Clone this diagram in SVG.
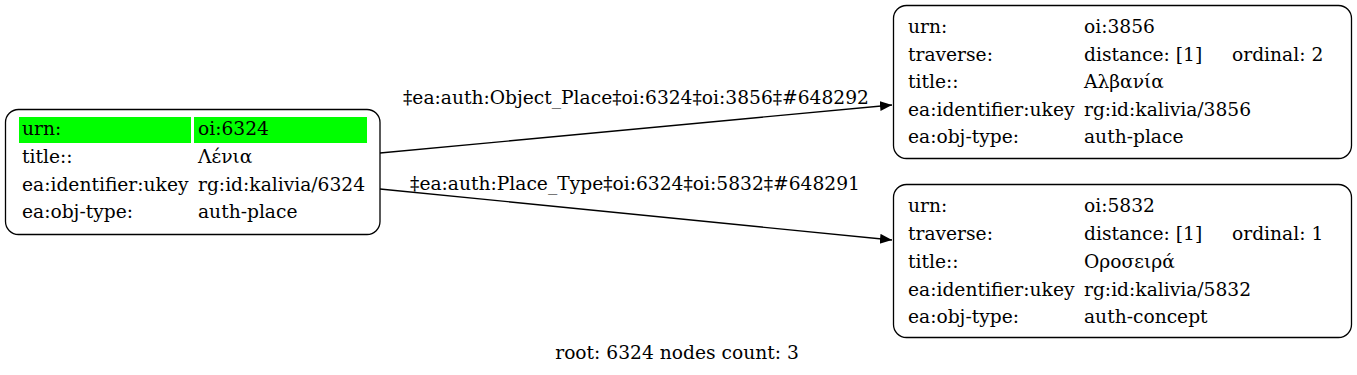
<svg xmlns="http://www.w3.org/2000/svg" width="1357" height="375" viewBox="0 0 1357 375">
<style>
text{font-family:"DejaVu Serif",serif;font-size:18.67px;fill:#000}
.box{fill:#fff;stroke:#000;stroke-width:1.3}
.edge{fill:none;stroke:#000;stroke-width:1.3}
.hl{fill:#00ff00}
</style>
<defs>
<marker id="ah" markerUnits="userSpaceOnUse" markerWidth="14" markerHeight="12" refX="12" refY="5" orient="auto">
<path d="M0,0 L12,5 L0,10 Z" fill="#000"/>
</marker>
</defs>
<rect width="1357" height="375" fill="#fff"/>
<g id="edges">
<path class="edge" d="M380,153 L892,105" marker-end="url(#ah)"/>
<text x="636" y="104" text-anchor="middle">‡ea:auth:Object_Place‡oi:6324‡oi:3856‡#648292</text>
<path class="edge" d="M380,189 L892,240" marker-end="url(#ah)"/>
<text x="635" y="190" text-anchor="middle">‡ea:auth:Place_Type‡oi:6324‡oi:5832‡#648291</text>
</g>
<g id="node-6324">
<rect class="box" x="5.5" y="109.5" width="374.5" height="125" rx="13"/>
<rect class="hl" x="19" y="117" width="172" height="26"/>
<rect class="hl" x="194" y="117" width="173" height="26"/>
<text x="22" y="135">urn:</text><text x="198" y="135">oi:6324</text>
<text x="22" y="163">title::</text><text x="198" y="163">Λένια</text>
<text x="22" y="191">ea:identifier:ukey</text><text x="198" y="191">rg:id:kalivia/6324</text>
<text x="22" y="218">ea:obj-type:</text><text x="198" y="218">auth-place</text>
</g>
<g id="node-3856">
<rect class="box" x="893.5" y="5.5" width="458" height="153" rx="13"/>
<text x="908" y="33">urn:</text><text x="1084" y="33">oi:3856</text>
<text x="908" y="61">traverse:</text><text x="1084" y="61">distance: [1]</text><text x="1232" y="61">ordinal: 2</text>
<text x="908" y="88">title::</text><text x="1084" y="88">Αλβανία</text>
<text x="908" y="116">ea:identifier:ukey</text><text x="1084" y="116">rg:id:kalivia/3856</text>
<text x="908" y="143">ea:obj-type:</text><text x="1084" y="143">auth-place</text>
</g>
<g id="node-5832">
<rect class="box" x="893.5" y="184.5" width="458" height="153" rx="13"/>
<text x="908" y="212">urn:</text><text x="1084" y="212">oi:5832</text>
<text x="908" y="240">traverse:</text><text x="1084" y="240">distance: [1]</text><text x="1232" y="240">ordinal: 1</text>
<text x="908" y="268">title::</text><text x="1084" y="268">Οροσειρά</text>
<text x="908" y="296">ea:identifier:ukey</text><text x="1084" y="296">rg:id:kalivia/5832</text>
<text x="908" y="323">ea:obj-type:</text><text x="1084" y="323">auth-concept</text>
</g>
<g id="graph-label">
<text x="677" y="359" text-anchor="middle">root: 6324 nodes count: 3</text>
</g>
</svg>
